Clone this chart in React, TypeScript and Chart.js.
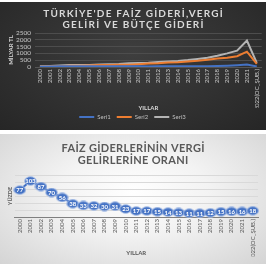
import React, { useEffect, useRef } from 'react';
import { Chart, registerables } from 'chart.js';

Chart.register(...registerables);

const FONT = 'Lato, "Liberation Sans", sans-serif';

const years = [
  '2000', '2001', '2002', '2003', '2004', '2005', '2006', '2007', '2008', '2009', '2010',
  '2011', '2012', '2013', '2014', '2015', '2016', '2017', '2018', '2019', '2020', '2021',
  '2022(OC_ŞUB.)',
];
const seri1 = [20, 41, 52, 58, 56, 46, 46, 49, 51, 53, 48, 42, 49, 50, 50, 53, 50, 57, 74, 101, 134, 181, 41];
const seri2 = [27, 40, 60, 84, 101, 119, 138, 153, 168, 172, 211, 254, 279, 326, 353, 408, 459, 537, 622, 674, 793, 1130, 230];
const seri3 = [47, 81, 116, 140, 141, 146, 178, 204, 227, 268, 294, 314, 361, 408, 448, 506, 584, 678, 830, 1000, 1200, 1950, 300];
const ratio = [77, 103, 87, 70, 56, 38, 33, 32, 30, 31, 23, 17, 17, 15, 14, 13, 11, 11, 12, 15, 16, 16, 18];

const topTitle = ["TÜRKİYE'DE FAİZ GİDERİ,VERGİ", 'GELİRİ VE BÜTÇE GİDERİ'];
const bottomTitle = ['FAİZ GİDERLERİNİN VERGİ', 'GELİRLERİNE ORANI'];
const topYMax = 2500;
const topYStep = 500;
const bottomYMax = 120;
const bottomYStep = 20;

function makeTitlePlugin(lines: string[], font: string, color: string, spacing: number, y0: number, lh: number) {
  return {
    id: 'customTitle',
    afterDraw(chart: any) {
      const ctx = chart.ctx as CanvasRenderingContext2D;
      ctx.save();
      ctx.font = font;
      ctx.fillStyle = color;
      ctx.textAlign = 'center';
      ctx.textBaseline = 'middle';
      (ctx as any).letterSpacing = spacing + 'px';
      lines.forEach((t, i) => ctx.fillText(t, chart.width / 2 + spacing / 2, y0 + i * lh));
      ctx.restore();
    },
  };
}

function makeMarker() {
  const c = document.createElement('canvas');
  c.width = 13;
  c.height = 10;
  const g = c.getContext('2d')!;
  g.beginPath();
  g.ellipse(6.5, 5, 5.8, 4.3, 0, 0, Math.PI * 2);
  g.fillStyle = '#4472c4';
  g.fill();
  g.lineWidth = 1;
  g.strokeStyle = '#a9bfe6';
  g.stroke();
  return c;
}

function TopChart() {
  const ref = useRef<HTMLCanvasElement>(null);
  useEffect(() => {
    const chart = new Chart(ref.current!, {
      type: 'line',
      data: {
        labels: years,
        datasets: [
          { label: 'Seri1', data: seri1, borderColor: '#4472c4', backgroundColor: '#4472c4', borderWidth: 2, pointRadius: 0, tension: 0 },
          { label: 'Seri2', data: seri2, borderColor: '#ed7d31', backgroundColor: '#ed7d31', borderWidth: 2, pointRadius: 0, tension: 0 },
          { label: 'Seri3', data: seri3, borderColor: '#b4b4b4', backgroundColor: '#b4b4b4', borderWidth: 2, pointRadius: 0, tension: 0 },
        ],
      },
      options: {
        responsive: false,
        animation: false,
        layout: { padding: { top: 31, right: 1, left: 0, bottom: 0 } },
        plugins: {
          title: { display: false },
          tooltip: { enabled: false },
          legend: {
            position: 'bottom',
            labels: {
              usePointStyle: true,
              pointStyle: 'line',
              pointStyleWidth: 15,
              boxHeight: 6,
              color: '#bfbfbf',
              font: { size: 6, family: FONT },
              padding: 6,
            },
          },
        },
        scales: {
          x: {
            offset: true,
            grid: { display: false, drawTicks: false },
            border: { display: true, color: '#555555' },
            ticks: { color: '#c8c8c8', font: { size: 6, family: FONT }, minRotation: 90, maxRotation: 90, autoSkip: false, padding: 2 },
            title: { display: true, text: 'YILLAR', color: '#d9d9d9', font: { size: 6, weight: 'bold', family: FONT }, padding: { top: 0, bottom: -3.6 } },
            afterFit: (s: any) => { s.height = 41; },
          },
          y: {
            min: 0,
            max: topYMax,
            ticks: {
              stepSize: topYStep,
              autoSkip: false,
              color: '#c8c8c8',
              font: { size: 6.5, family: FONT },
              padding: 4,
              callback: (v: any) => String(v),
            },
            grid: { color: '#4d4d4d', drawTicks: false },
            border: { display: false },
            title: { display: true, text: 'MİLYAR TL', color: '#d9d9d9', font: { size: 6, weight: 'bold', family: FONT }, padding: { top: 7.4, bottom: 0 } },
            afterFit: (s: any) => { s.width = 35; },
          },
        },
      },
      plugins: [makeTitlePlugin(topTitle, `bold 10px ${FONT}`, '#d9d9d9', 1.2, 12, 11)],
    } as any);
    return () => chart.destroy();
  }, []);
  return <canvas ref={ref} width={266} height={128} style={{ display: 'block' }} />;
}

function BottomChart() {
  const ref = useRef<HTMLCanvasElement>(null);
  useEffect(() => {
    const marker = makeMarker();
    const pointLabels = {
      id: 'pointLabels',
      afterDatasetsDraw(chart: any) {
        const meta = chart.getDatasetMeta(0);
        const ctx = chart.ctx as CanvasRenderingContext2D;
        ctx.save();
        ctx.font = `bold 6px ${FONT}`;
        ctx.fillStyle = '#ffffff';
        ctx.textAlign = 'center';
        ctx.textBaseline = 'middle';
        meta.data.forEach((el: any, i: number) => ctx.fillText(String(ratio[i]), el.x, el.y + 0.5));
        ctx.restore();
      },
    };
    const chart = new Chart(ref.current!, {
      type: 'line',
      data: {
        labels: years,
        datasets: [
          {
            label: 'Seri1',
            data: ratio,
            borderColor: '#4472c4',
            borderWidth: 2,
            pointStyle: marker,
            pointRadius: 6,
            tension: 0,
            clip: false,
          },
        ],
      },
      options: {
        responsive: false,
        animation: false,
        layout: { padding: { top: 41, right: 1, left: 0, bottom: 7.4 } },
        plugins: {
          title: { display: false },
          tooltip: { enabled: false },
          legend: { display: false },
        },
        scales: {
          x: {
            offset: true,
            grid: { display: false, drawTicks: false },
            border: { display: true, color: '#7f7f7f' },
            ticks: { color: '#595959', font: { size: 6, family: FONT }, minRotation: 90, maxRotation: 90, autoSkip: false, padding: 2 },
            title: { display: true, text: 'YILLAR', color: '#595959', font: { size: 6, weight: 'bold', family: FONT }, padding: 0 },
            afterFit: (s: any) => { s.height = 39.6; },
          },
          y: {
            min: 0,
            max: bottomYMax,
            ticks: { display: false, stepSize: bottomYStep },
            grid: { color: '#d9d9d9', drawTicks: false },
            border: { display: false },
            title: { display: true, text: 'YÜZDE', color: '#595959', font: { size: 5.5, weight: 'bold', family: FONT }, padding: { top: 6.7, bottom: 0 } },
            afterFit: (s: any) => { s.width = 14.5; },
          },
        },
      },
      plugins: [pointLabels, makeTitlePlugin(bottomTitle, `bold 11px ${FONT}`, '#595959', 0.3, 14, 12)],
    } as any);
    return () => chart.destroy();
  }, []);
  return <canvas ref={ref} width={266} height={130} style={{ display: 'block' }} />;
}

export default function App() {
  return (
    <div style={{ position: 'fixed', left: 0, top: 0, width: 266, height: 266, background: '#ffffff', overflow: 'hidden' }}>
      <div
        style={{
          position: 'absolute', left: 0, top: 2, width: 266, height: 128,
          background: 'radial-gradient(ellipse at 50% 40%, #3e3e3e 0%, #303030 60%, #262626 100%)',
        }}
      >
        <TopChart />
      </div>
      <div
        style={{
          position: 'absolute', left: 0, top: 134, width: 266, height: 130,
          background: 'radial-gradient(ellipse at 50% 45%, #ffffff 0%, #f3f3f3 40%, #d4d4d4 100%)',
        }}
      >
        <BottomChart />
      </div>
    </div>
  );
}
